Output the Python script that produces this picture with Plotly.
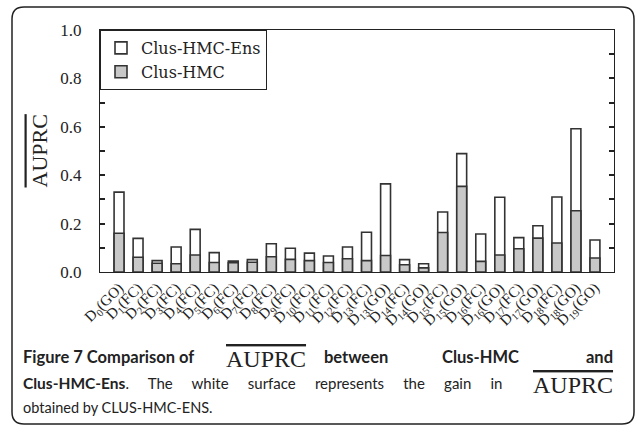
import plotly.graph_objects as go

labels = ["D<sub>0</sub>(GO)", "D<sub>1</sub>(FC)", "D<sub>2</sub>(FC)", "D<sub>3</sub>(FC)",
          "D<sub>4</sub>(FC)", "D<sub>5</sub>(FC)", "D<sub>6</sub>(FC)", "D<sub>7</sub>(FC)",
          "D<sub>8</sub>(FC)", "D<sub>9</sub>(FC)", "D<sub>10</sub>(FC)", "D<sub>11</sub>(FC)",
          "D<sub>12</sub>(FC)", "D<sub>13</sub>(FC)", "D<sub>13</sub>(GO)", "D<sub>14</sub>(FC)",
          "D<sub>14</sub>(GO)", "D<sub>15</sub>(FC)", "D<sub>15</sub>(GO)", "D<sub>16</sub>(FC)",
          "D<sub>16</sub>(GO)", "D<sub>17</sub>(FC)", "D<sub>17</sub>(GO)", "D<sub>18</sub>(FC)",
          "D<sub>18</sub>(GO)", "D<sub>19</sub>(GO)"]
clus_hmc_ens = [0.330, 0.139, 0.047, 0.103, 0.176, 0.080, 0.045, 0.051, 0.117, 0.098, 0.078, 0.066,
                0.103, 0.164, 0.364, 0.051, 0.034, 0.248, 0.489, 0.157, 0.309, 0.142, 0.191, 0.310,
                0.592, 0.132]
clus_hmc = [0.160, 0.061, 0.036, 0.034, 0.070, 0.039, 0.038, 0.040, 0.063, 0.052, 0.047, 0.039,
            0.055, 0.047, 0.068, 0.030, 0.017, 0.163, 0.354, 0.044, 0.070, 0.096, 0.140, 0.120,
            0.253, 0.058]

W, H = 637, 431
L, R, T, B = 100, 23, 30, 159
PW, PH = W - L - R, H - T - B


def xp(px):
    return (px - L) / PW


def yp(py):
    return (H - B - py) / PH


SERIF = "Liberation Serif"
SANS = "Lato"
line_col = "#333333"
ink = "#222222"

fig = go.Figure()
fig.add_trace(go.Bar(x=labels, y=clus_hmc_ens, name="Clus-HMC-Ens",
                     marker=dict(color="white", line=dict(color=line_col, width=1.6))))
fig.add_trace(go.Bar(x=labels, y=clus_hmc, name="Clus-HMC",
                     marker=dict(color="#c8c8c8", line=dict(color=line_col, width=1.6))))

fig.update_layout(
    width=W, height=H,
    margin=dict(l=L, r=R, t=T, b=B, pad=0),
    paper_bgcolor="white", plot_bgcolor="white",
    barmode="overlay", bargap=0.48,
    font=dict(family=SERIF, color=ink, size=15),
    showlegend=True,
    legend=dict(x=0, y=1, xanchor="left", yanchor="top", bordercolor=ink,
                borderwidth=1, bgcolor="white", font=dict(family="DejaVu Serif", size=16),
                traceorder="normal", tracegroupgap=0, entrywidth=142),
    xaxis=dict(range=[-1, 26], showline=True, linecolor=ink, linewidth=1.2, mirror=True,
               ticks="", tickangle=-45, tickfont=dict(family=SERIF, size=15),
               showgrid=False, zeroline=False),
    yaxis=dict(range=[0, 1], dtick=0.2, tickformat=".1f", showline=True, linecolor=ink,
               linewidth=1.2, mirror="ticks", ticks="inside", ticklen=5, tickwidth=1.5,
               tickcolor=ink, ticklabelstandoff=14,
               minor=dict(dtick=0.1, ticks="inside", ticklen=5, tickwidth=1.5, tickcolor=ink),
               tickfont=dict(family=SERIF, size=17), showgrid=False, zeroline=False),
)

ov = '<span style="text-decoration:overline">AUPRC</span>'

# y-axis title with overline
fig.add_annotation(xref="paper", yref="paper", x=xp(24), y=yp(151),
                   text=ov, textangle=-90, showarrow=False,
                   font=dict(family=SERIF, size=22, color=ink))


def cap(text, px, py, anchor="left", size=16, family=SANS):
    fig.add_annotation(xref="paper", yref="paper", x=xp(px), y=yp(py), xanchor=anchor,
                       yanchor="middle", text=text, showarrow=False,
                       font=dict(family=family, size=size, color=ink))


nb = " " + "\u00a0" * 4
# line 1
cap("<b>Figure 7 Comparison of</b>", 21, 357, size=16.5)
cap(ov, 266, 359, anchor="center", size=24, family=SERIF)
cap("<b>between</b>", 322, 357, size=16.5)
cap("<b>Clus-HMC</b>", 480, 357, anchor="center", size=16.5)
cap("<b>and</b>", 615, 357, anchor="right", size=16.5)
# line 2
cap('<b><span style="font-size:15.5px">Clus-HMC-Ens</span></b>.' + nb
    + nb.join(["The", "white", "surface", "represents", "the", "gain", "in"]),
    21, 383, size=15)
cap(ov, 615, 385, anchor="right", size=24, family=SERIF)
# line 3
cap("obtained by CLUS-HMC-ENS.", 21, 407, size=14.5)

# outer rounded frame
x0, x1, y0, y1, r = 12, 634, 7, 424, 12
rx, ry = r / PW, r / PH
X0, X1, Y0, Y1 = xp(x0), xp(x1), yp(y1), yp(y0)
path = (f"M {X0 + rx},{Y1} L {X1 - rx},{Y1} Q {X1},{Y1} {X1},{Y1 - ry} "
        f"L {X1},{Y0 + ry} Q {X1},{Y0} {X1 - rx},{Y0} L {X0 + rx},{Y0} "
        f"Q {X0},{Y0} {X0},{Y0 + ry} L {X0},{Y1 - ry} Q {X0},{Y1} {X0 + rx},{Y1} Z")
fig.add_shape(type="path", xref="paper", yref="paper", path=path,
              line=dict(color=ink, width=1.5), layer="below")

fig.write_html("out.html", config={"displayModeBar": False},
               post_script="document.body.style.margin='0';document.body.style.overflow='hidden';")
